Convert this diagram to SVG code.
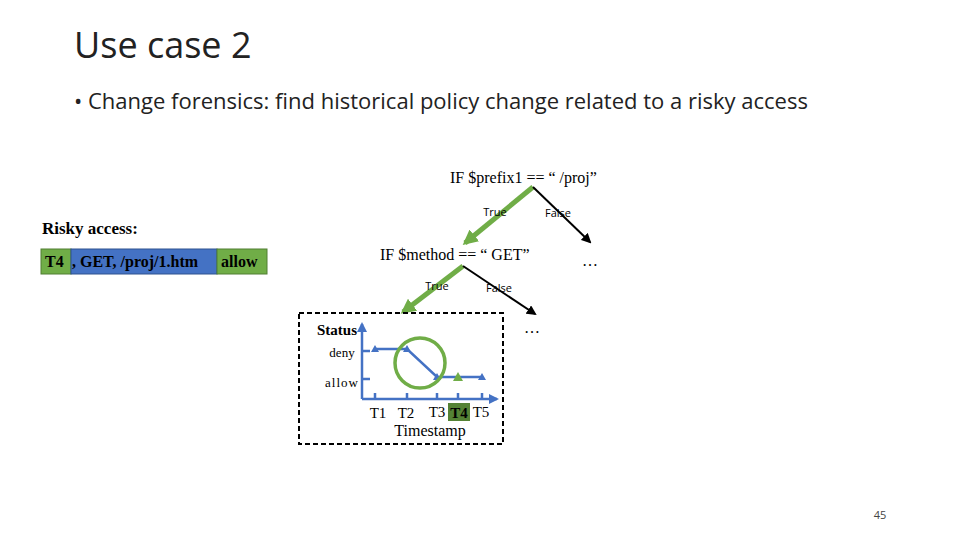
<svg xmlns="http://www.w3.org/2000/svg" width="960" height="540" viewBox="0 0 960 540">
<style>
.t{font-family:"Liberation Serif",serif;fill:#000}
.c{font-family:"Open Sans","Liberation Sans",sans-serif}
.g{stroke:#70ad47;stroke-width:5;fill:none}
.k{stroke:#000;stroke-width:2;fill:none}
.b{stroke:#4472c4;stroke-width:2.5;fill:none}
</style>
<defs>
<marker id="ag" viewBox="0 0 10 10" refX="8" refY="5" markerWidth="3" markerHeight="3" orient="auto"><path d="M0,0L10,5L0,10z" fill="#70ad47"/></marker>
<marker id="ak" viewBox="0 0 10 10" refX="8" refY="5" markerWidth="5" markerHeight="5" orient="auto"><path d="M0,0L10,5L0,10z" fill="#000"/></marker>
<marker id="ab" viewBox="0 0 10 10" refX="8" refY="5" markerWidth="4" markerHeight="4" orient="auto"><path d="M0,0L10,5L0,10z" fill="#4472c4"/></marker>
</defs>
<rect width="960" height="540" fill="#fff"/>
<text x="74" y="58" class="c" font-size="36" fill="#222">Use case 2</text>
<text x="74" y="109" class="c" font-size="22" fill="#222">• Change forensics: find historical policy change related to a risky access</text>
<text x="880" y="519" class="c" font-size="11" fill="#444" text-anchor="middle">45</text>

<g id="risky">
<text x="42" y="234" class="t" font-size="17" font-weight="bold">Risky access:</text>
<rect x="41" y="249" width="30" height="25" fill="#70ad47" stroke="#507e32"/>
<rect x="71" y="249" width="146" height="25" fill="#4472c4" stroke="#2f528f"/>
<rect x="217" y="249" width="50" height="25" fill="#70ad47" stroke="#507e32"/>
<text x="45" y="267" class="t" font-size="16" font-weight="bold" fill="#fff">T4</text>
<text x="72" y="267" class="t" font-size="16" font-weight="bold" fill="#fff">, GET, /proj/1.htm</text>
<text x="221" y="267" class="t" font-size="16" font-weight="bold" fill="#fff">allow</text>
</g>

<g id="n1"><text x="450" y="183" class="t" font-size="16">IF $prefix1 == “ /proj”</text></g>
<g id="n2"><text x="380" y="260" class="t" font-size="16">IF $method == “ GET”</text></g>
<g id="d1"><text x="590" y="266" class="t" font-size="16" text-anchor="middle">…</text></g>
<g id="d2"><text x="532" y="333" class="t" font-size="16" text-anchor="middle">…</text></g>

<g id="connectors">
<line x1="533" y1="187" x2="465" y2="243" class="g" marker-end="url(#ag)"/>
<line x1="533" y1="187" x2="590" y2="242" class="k" marker-end="url(#ak)"/>
<line x1="463" y1="266" x2="403" y2="312" class="g" marker-end="url(#ag)"/>
<line x1="463" y1="266" x2="535" y2="314" class="k" marker-end="url(#ak)"/>
<text x="495" y="216" class="c" font-size="11" text-anchor="middle">True</text>
<text x="558" y="217" class="c" font-size="11" text-anchor="middle">False</text>
<text x="437" y="290" class="c" font-size="11" text-anchor="middle">True</text>
<text x="499" y="292" class="c" font-size="11" text-anchor="middle">False</text>
</g>

<g id="chart">
<rect x="299" y="313" width="204" height="131" fill="none" stroke="#000" stroke-width="2" stroke-dasharray="5,3"/>
<line x1="362" y1="399" x2="362" y2="324" class="b" marker-end="url(#ab)"/>
<line x1="362" y1="399" x2="497" y2="399" class="b" marker-end="url(#ab)"/>
<path d="M362,351h8M362,379h8M375,399v-6M407,399v-6M437,399v-6M458,399v-6M482,399v-6" class="b"/>
<path d="M375,349H407L437,377H482" class="b"/>
<path d="M371,352l4,-7l4,7zM403,352l4,-7l4,7zM433,380l4,-7l4,7zM478,380l4,-7l4,7z" fill="#4472c4"/>
<path d="M453,381l5,-9l5,9z" fill="#70ad47"/>
<circle cx="420" cy="363" r="25" fill="none" stroke="#70ad47" stroke-width="3.5"/>
<text x="337" y="335" class="t" font-size="15" font-weight="bold" text-anchor="middle">Status</text>
<text x="342" y="357" class="t" font-size="13" text-anchor="middle">deny</text>
<text x="342" y="387" class="t" font-size="13" text-anchor="middle" letter-spacing="1">allow</text>
<rect x="448" y="403" width="22" height="18" fill="#548235"/>
<text x="378" y="418" class="t" font-size="15" text-anchor="middle">T1</text>
<text x="406" y="418" class="t" font-size="15" text-anchor="middle">T2</text>
<text x="437" y="417" class="t" font-size="15" text-anchor="middle">T3</text>
<text x="459" y="418" class="t" font-size="15" font-weight="bold" fill="#fff" text-anchor="middle">T4</text>
<text x="481" y="417" class="t" font-size="15" text-anchor="middle">T5</text>
<text x="430" y="436" class="t" font-size="16" text-anchor="middle">Timestamp</text>
</g>
</svg>
